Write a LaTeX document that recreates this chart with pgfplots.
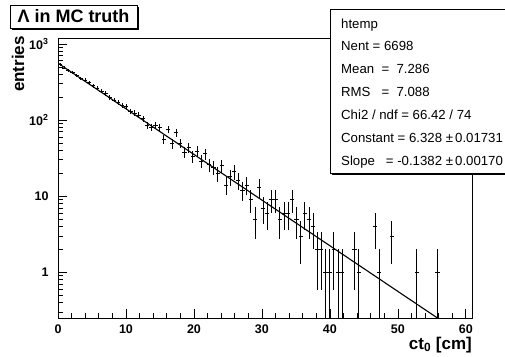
\documentclass[border=0pt]{standalone}
\usepackage{fontspec}
\setmainfont{Liberation Sans}
\usepackage{pgfplots}
\pgfplotsset{compat=1.18}
\pgfplotstableread{
x y ep em
0.305 545 23.3 23.3
0.915 485 22.0 22.0
1.525 452 21.3 21.3
2.135 422 20.5 20.5
2.745 385 19.6 19.6
3.355 352 18.8 18.8
3.965 335 18.3 18.3
4.575 312 17.7 17.7
5.185 282 16.8 16.8
5.795 262 16.2 16.2
6.405 240 15.5 15.5
7.015 224 15.0 15.0
7.625 199 14.1 14.1
8.235 184 13.6 13.6
8.845 172 13.1 13.1
9.455 156 12.5 12.5
10.065 152 12.3 12.3
10.675 130 11.4 11.4
11.285 124 11.1 11.1
11.895 116 10.8 10.8
12.505 104 10.2 10.2
13.115 86 9.27 9.27
13.725 80 8.94 8.94
14.335 85 9.22 9.22
14.945 79 8.89 8.89
15.555 56 7.48 7.48
16.165 76 8.72 8.72
16.775 49 7.0 7.0
17.385 68 8.25 8.25
17.995 50 7.07 7.07
18.605 38 6.16 6.16
19.215 44 6.63 6.63
19.825 33 5.74 5.74
20.435 39 6.24 6.24
21.045 29 5.39 5.39
21.655 36 6.0 6.0
22.265 26 5.10 5.10
22.875 24 4.90 4.90
23.485 20 4.47 4.47
24.095 25 5.0 5.0
24.705 14 3.74 3.74
25.315 18 4.24 4.24
25.925 21 4.58 4.58
26.535 16 4.0 4.0
27.145 12 3.46 3.46
27.755 14 3.74 3.74
28.365 9 3.0 3.0
28.975 5 2.24 2.24
29.585 13 3.61 3.61
30.195 7 2.65 2.65
30.805 6 2.45 2.45
31.415 9 3.0 3.0
32.025 9 3.0 3.0
32.635 5 2.24 2.24
33.245 6 2.45 2.45
33.855 6 2.45 2.45
34.465 9 3.0 3.0
35.075 5 2.24 2.24
35.685 3 1.73 1.73
36.295 6 2.45 2.45
36.905 5 2.24 2.24
37.515 4 2.0 2.0
38.125 2 1.41 1.41
38.735 2 1.41 1.41
39.345 1 1 0.999
39.955 1 1 0.999
40.565 2 1.41 1.41
41.175 1 1 0.999
41.785 1 1 0.999
43.615 2 1.41 1.41
44.225 1 1 0.999
46.665 4 2.0 2.0
47.275 1 1 0.999
49.105 3 1.73 1.73
52.765 1 1 0.999
55.815 1 1 0.999
}\datatable
\begin{document}
\begin{tikzpicture}[x=1pt,y=1pt]
\path[use as bounding box] (-58,-38) rectangle (447,318);
\begin{axis}[
  at={(0,0)}, anchor=south west, scale only axis,
  width=414pt, height=280pt,
  xmin=0, xmax=60.9, ymode=log, ymin=0.25, ymax=1200,
  xtick={0,10,20,30,40,50,60},
  xticklabels={0,10,20,30,40,50,60},
  minor x tick num=4,
  ytick={1,10,100,1000},
  yticklabels={1,10,10\textsuperscript{2},10\textsuperscript{3}},
  minor ytick={0.3,0.4,0.5,0.6,0.7,0.8,0.9,2,3,4,5,6,7,8,9,20,30,40,50,60,70,80,90,200,300,400,500,600,700,800,900},
  xtick pos=bottom, ytick pos=left, tick align=inside,
  major tick length=9pt, minor tick length=5pt,
  axis line style={line width=0.9pt},
  every tick/.style={black, line width=0.8pt},
  tick label style={font=\fontsize{12.5}{12.5}\bfseries\selectfont},
  xticklabel style={yshift=-3pt},
  yticklabel style={xshift=-6pt},
  /pgf/number format/assume math mode=true,
]
\addplot[draw=none, mark=none,
  error bars/.cd, x dir=both, x fixed=0.305, y dir=both, y explicit,
  error mark=none, error bar style={draw=black, solid, line width=0.75pt}]
  table[x=x, y=y, y error plus=ep, y error minus=em] {\datatable};
\addplot[black, line width=1.1pt, mark=none] coordinates {(0,560.3) (60.9,0.1239)};
\end{axis}
% title box
\fill[black] (-46,288) rectangle (81,311);
\draw[fill=white, line width=0.8pt] (-48,290) rectangle (79,313);
\node[inner sep=0, font=\fontsize{18}{18}\bfseries\selectfont] at (15.5,301.5) {Λ in MC truth};
% stats box
\fill[black] (274,143) rectangle (460,307);
\draw[fill=white, line width=0.8pt] (272,145) rectangle (458,309);
\begin{scope}[every node/.style={anchor=base west, inner sep=0, font=\fontsize{13.2}{13.2}\selectfont}]
\node at (283,289) {htemp};
\node at (283,267) {Nent = 6698};
\node at (283,244) {Mean \ = \ 7.286};
\node at (283,221) {RMS \ \ = \ 7.088};
\node at (283,198) {Chi2 / ndf = 66.42 / 74};
\node at (283,175) {Constant = 6.328 ±\,0.01731};
\node at (283,152) {Slope \ \ = -0.1382 ±\,0.00170};
\end{scope}
% axis labels
\node[rotate=90, anchor=east, inner sep=0, font=\fontsize{17}{17}\bfseries\selectfont] at (-40,282) {entries};
\node[anchor=base east, inner sep=0, font=\fontsize{17}{17}\bfseries\selectfont] at (414,-31) {ct\textsubscript{0} [cm]};
\end{tikzpicture}
\end{document}
